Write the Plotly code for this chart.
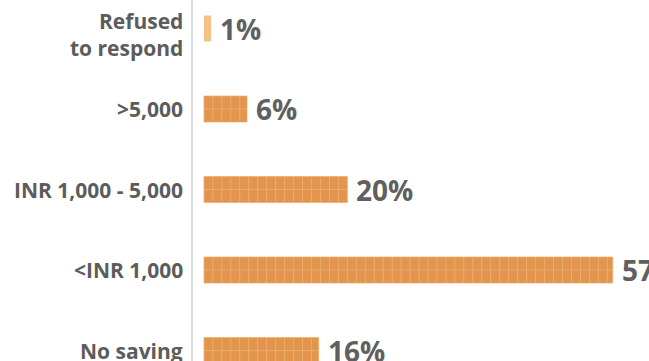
import numpy as np
import plotly.graph_objects as go

# Monthly saving amount, share of respondents (%)
categories = ["Refused<br>to respond", ">5,000", "INR 1,000 - 5,000", "<INR 1,000", "No saving"]
shares = [1, 6, 20, 57, 16]
positions = [4, 3, 2, 1, 0]

CELL = 1.25          # width of one tile, in percentage points
BAR_H = 0.323        # full bar thickness in category units
HALF = BAR_H / 2
FILL = "#E3954E"
EDGE = "#EDAE6C"
LIGHT = "#F3C282"
TEXT = "#606060"
FONT = "Open Sans"

fig = go.Figure()

# tiled bars: each bar is split into cells, two rows high
for row_offset in (0.0, -HALF):
    xs, bases, ys = [], [], []
    for share, pos in zip(shares, positions):
        if share <= 1:
            continue
        starts = np.arange(0, share, CELL)
        for s in starts:
            bases.append(float(s))
            xs.append(float(min(CELL, share - s)))
            ys.append(pos)
    fig.add_trace(go.Bar(
        x=xs, y=ys, base=bases, orientation="h",
        width=HALF, offset=row_offset,
        marker=dict(color=FILL, line=dict(color=EDGE, width=0.7)),
        hoverinfo="skip", showlegend=False,
    ))

# very small shares drawn as one plain light bar
small = [(s, p) for s, p in zip(shares, positions) if s <= 1]
fig.add_trace(go.Bar(
    x=[s for s, _ in small], y=[p for _, p in small], base=0, orientation="h",
    width=BAR_H, offset=-HALF,
    marker=dict(color=LIGHT, line=dict(width=0)),
    hoverinfo="skip", showlegend=False,
))

annotations = []
for cat, share, pos in zip(categories, shares, positions):
    annotations.append(dict(
        x=0, xref="paper", y=pos, yref="y", text=cat,
        xanchor="right", yanchor="middle", align="right", xshift=-8,
        yshift=-6 if "<br>" in cat else 0,
        showarrow=False,
        font=dict(family=FONT, size=21, color="#5C5C5C", weight="bold"),
    ))
    annotations.append(dict(
        x=share, xref="x", y=pos, yref="y", text=f"{share}%",
        xanchor="left", yanchor="middle", xshift=7,
        showarrow=False,
        font=dict(family=FONT, size=28, color=TEXT, weight="bold"),
    ))

fig.update_layout(
    width=649, height=361,
    margin=dict(l=193, r=0, t=0, b=0),
    paper_bgcolor="white", plot_bgcolor="white",
    barmode="overlay",
    xaxis=dict(range=[-1.53, 62.06], visible=False, fixedrange=True),
    yaxis=dict(range=[-0.13, 4.354], showticklabels=False, showgrid=False,
               zeroline=False, showline=True, linecolor="#DCDCDC", linewidth=2,
               ticks="", fixedrange=True),
    annotations=annotations,
)

fig.write_html("out.html")
